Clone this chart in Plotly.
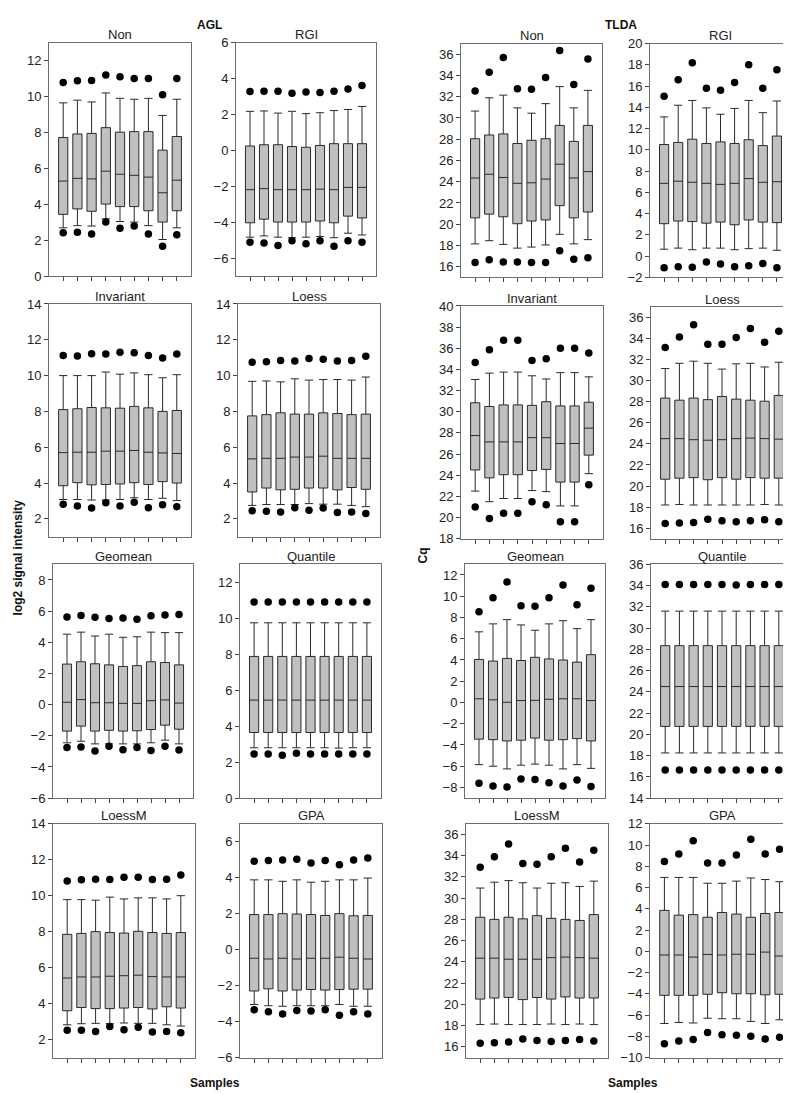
import plotly.graph_objects as go

SAMPLES = [1, 2, 3, 4, 5, 6, 7, 8, 9]

# ---------------- AGL ----------------
AGL_NON_UW = [9.65, 9.8, 9.7, 10.2, 9.9, 9.85, 9.9, 8.95, 9.85]
AGL_NON_Q3 = [7.72, 7.92, 7.95, 8.27, 8.02, 8.05, 8.05, 7.02, 7.78]
AGL_NON_MED = [5.30, 5.45, 5.42, 5.85, 5.68, 5.62, 5.52, 4.65, 5.35]
AGL_NON_Q1 = [3.45, 3.75, 3.62, 4.02, 3.88, 3.88, 3.65, 3.02, 3.65]
AGL_NON_LW = [2.70, 2.82, 2.80, 3.20, 3.05, 3.02, 2.82, 2.05, 2.70]
AGL_NON_HI = [10.78, 10.88, 10.9, 11.2, 11.1, 11.0, 11.0, 10.1, 11.0]
AGL_NON_LO = [2.42, 2.45, 2.35, 3.02, 2.68, 2.80, 2.35, 1.68, 2.32]

AGL_RGI_UW = [2.18, 2.2, 2.08, 2.18, 2.05, 2.1, 2.22, 2.28, 2.45]
AGL_RGI_Q3 = [0.25, 0.32, 0.32, 0.22, 0.18, 0.28, 0.38, 0.38, 0.38]
AGL_RGI_MED = [-2.18, -2.12, -2.18, -2.18, -2.18, -2.15, -2.18, -2.05, -2.05]
AGL_RGI_Q1 = [-4.02, -3.82, -3.98, -3.98, -3.98, -3.92, -4.02, -3.65, -3.75]
AGL_RGI_LW = [-4.82, -4.75, -4.82, -4.85, -4.82, -4.78, -4.85, -4.6, -4.7]
AGL_RGI_HI = [3.28, 3.3, 3.3, 3.18, 3.25, 3.22, 3.3, 3.42, 3.62]
AGL_RGI_LO = [-5.1, -5.15, -5.28, -5.02, -5.18, -5.02, -5.32, -5.02, -5.1]

AGL_INV_UW = [10.0, 10.0, 10.0, 10.2, 10.08, 10.15, 10.05, 9.88, 10.05]
AGL_INV_Q3 = [8.1, 8.15, 8.22, 8.2, 8.18, 8.28, 8.2, 8.0, 8.05]
AGL_INV_MED = [5.7, 5.72, 5.72, 5.78, 5.78, 5.82, 5.72, 5.68, 5.65]
AGL_INV_Q1 = [3.85, 4.02, 3.9, 3.92, 3.95, 4.02, 3.92, 4.08, 4.0]
AGL_INV_LW = [3.08, 3.08, 3.05, 3.05, 3.08, 3.18, 3.08, 3.15, 3.02]
AGL_INV_HI = [11.12, 11.1, 11.22, 11.2, 11.3, 11.28, 11.12, 10.98, 11.2]
AGL_INV_LO = [2.82, 2.72, 2.6, 2.9, 2.72, 2.92, 2.62, 2.78, 2.68]

AGL_LOE_UW = [9.68, 9.7, 9.65, 9.82, 9.75, 9.78, 9.78, 9.75, 9.92]
AGL_LOE_Q3 = [7.75, 7.82, 7.92, 7.85, 7.85, 7.92, 7.88, 7.82, 7.85]
AGL_LOE_MED = [5.35, 5.38, 5.38, 5.45, 5.45, 5.5, 5.38, 5.38, 5.38]
AGL_LOE_Q1 = [3.5, 3.72, 3.62, 3.65, 3.72, 3.72, 3.62, 3.75, 3.65]
AGL_LOE_LW = [2.75, 2.8, 2.8, 2.8, 2.85, 2.82, 2.82, 2.75, 2.68]
AGL_LOE_HI = [10.75, 10.78, 10.85, 10.82, 10.95, 10.92, 10.82, 10.85, 11.08]
AGL_LOE_LO = [2.45, 2.42, 2.38, 2.62, 2.48, 2.6, 2.35, 2.38, 2.3]

AGL_GEO_UW = [4.52, 4.65, 4.4, 4.52, 4.32, 4.35, 4.65, 4.62, 4.62]
AGL_GEO_Q3 = [2.6, 2.75, 2.62, 2.55, 2.45, 2.5, 2.75, 2.7, 2.55]
AGL_GEO_MED = [0.15, 0.32, 0.12, 0.12, 0.08, 0.08, 0.25, 0.3, 0.1]
AGL_GEO_Q1 = [-1.7, -1.38, -1.7, -1.65, -1.7, -1.68, -1.6, -1.32, -1.58]
AGL_GEO_LW = [-2.45, -2.35, -2.52, -2.52, -2.52, -2.52, -2.45, -2.28, -2.52]
AGL_GEO_HI = [5.62, 5.72, 5.6, 5.52, 5.55, 5.48, 5.7, 5.75, 5.78]
AGL_GEO_LO = [-2.75, -2.72, -2.98, -2.68, -2.9, -2.75, -2.95, -2.68, -2.92]

AGL_QUA_UW = [9.75, 9.75, 9.75, 9.75, 9.75, 9.75, 9.75, 9.75, 9.75]
AGL_QUA_Q3 = [7.88, 7.88, 7.88, 7.88, 7.88, 7.88, 7.88, 7.88, 7.88]
AGL_QUA_MED = [5.45, 5.45, 5.45, 5.45, 5.45, 5.45, 5.45, 5.45, 5.45]
AGL_QUA_Q1 = [3.65, 3.65, 3.65, 3.65, 3.65, 3.65, 3.65, 3.65, 3.65]
AGL_QUA_LW = [2.8, 2.8, 2.8, 2.8, 2.8, 2.8, 2.78, 2.8, 2.8]
AGL_QUA_HI = [10.9, 10.9, 10.9, 10.9, 10.9, 10.9, 10.9, 10.9, 10.9]
AGL_QUA_LO = [2.45, 2.45, 2.38, 2.5, 2.45, 2.45, 2.45, 2.45, 2.45]

AGL_LOM_UW = [9.78, 9.78, 9.75, 9.92, 9.82, 9.88, 9.88, 9.82, 10.0]
AGL_LOM_Q3 = [7.85, 7.9, 8.0, 7.95, 7.92, 8.02, 7.95, 7.9, 7.95]
AGL_LOM_MED = [5.42, 5.48, 5.48, 5.52, 5.55, 5.58, 5.5, 5.48, 5.48]
AGL_LOM_Q1 = [3.6, 3.78, 3.72, 3.72, 3.75, 3.78, 3.7, 3.82, 3.75]
AGL_LOM_LW = [2.82, 2.88, 2.9, 2.88, 2.92, 2.9, 2.9, 2.82, 2.75]
AGL_LOM_HI = [10.82, 10.88, 10.92, 10.9, 11.02, 11.02, 10.9, 10.92, 11.15]
AGL_LOM_LO = [2.52, 2.52, 2.45, 2.72, 2.55, 2.68, 2.42, 2.45, 2.38]

AGL_GPA_UW = [3.88, 3.88, 3.8, 3.88, 3.75, 3.8, 3.88, 3.88, 3.98]
AGL_GPA_Q3 = [1.95, 1.95, 2.0, 1.98, 1.95, 1.9, 2.0, 1.88, 1.9]
AGL_GPA_MED = [-0.48, -0.52, -0.48, -0.52, -0.48, -0.48, -0.42, -0.48, -0.52]
AGL_GPA_Q1 = [-2.3, -2.18, -2.3, -2.25, -2.22, -2.25, -2.22, -2.2, -2.2]
AGL_GPA_LW = [-3.05, -3.12, -3.15, -3.12, -3.12, -3.12, -3.05, -3.15, -3.15]
AGL_GPA_HI = [4.92, 4.95, 4.98, 5.02, 4.82, 4.95, 4.72, 4.98, 5.1]
AGL_GPA_LO = [-3.35, -3.45, -3.58, -3.38, -3.42, -3.35, -3.65, -3.45, -3.58]

# ---------------- TLDA ----------------
TLDA_NON_UW = [30.65, 31.9, 32.15, 30.95, 30.45, 31.35, 32.95, 30.95, 32.6]
TLDA_NON_Q3 = [28.05, 28.4, 28.5, 27.6, 27.9, 28.05, 29.3, 27.8, 29.3]
TLDA_NON_MED = [24.35, 24.7, 24.4, 23.85, 23.9, 24.25, 25.65, 24.35, 24.95]
TLDA_NON_Q1 = [20.6, 20.95, 20.7, 20.05, 20.3, 20.4, 21.75, 20.6, 21.15]
TLDA_NON_LW = [18.15, 18.45, 18.1, 17.75, 17.85, 18.05, 19.05, 18.15, 18.55]
TLDA_NON_HI = [32.55, 34.3, 35.7, 32.75, 32.7, 33.8, 36.35, 33.15, 35.55]
TLDA_NON_LO = [16.4, 16.65, 16.45, 16.45, 16.4, 16.4, 17.5, 16.7, 16.85]

TLDA_RGI_UW = [13.1, 14.2, 14.65, 13.95, 13.35, 13.9, 14.65, 13.5, 14.6]
TLDA_RGI_Q3 = [10.5, 10.7, 11.0, 10.6, 10.75, 10.6, 10.95, 10.4, 11.3]
TLDA_RGI_MED = [6.85, 7.05, 6.95, 6.85, 6.75, 6.85, 7.3, 6.95, 7.0]
TLDA_RGI_Q1 = [3.05, 3.3, 3.25, 3.1, 3.2, 2.95, 3.4, 3.2, 3.15]
TLDA_RGI_LW = [0.65, 0.75, 0.6, 0.75, 0.75, 0.6, 0.7, 0.75, 0.55]
TLDA_RGI_HI = [15.05, 16.6, 18.2, 15.8, 15.6, 16.35, 18.0, 15.8, 17.55]
TLDA_RGI_LO = [-1.1, -1.0, -1.05, -0.55, -0.75, -1.0, -0.9, -0.7, -1.1]

TLDA_INV_UW = [33.05, 33.65, 33.75, 33.75, 33.4, 33.1, 33.7, 33.7, 33.3]
TLDA_INV_Q3 = [30.85, 30.5, 30.65, 30.65, 30.6, 30.95, 30.55, 30.55, 30.9]
TLDA_INV_MED = [27.75, 27.15, 27.15, 27.15, 27.55, 27.55, 27.0, 27.0, 28.45]
TLDA_INV_Q1 = [24.5, 23.75, 24.05, 24.05, 24.45, 24.55, 23.35, 23.35, 25.9]
TLDA_INV_LW = [22.5, 21.5, 21.8, 21.8, 22.55, 22.45, 21.1, 21.1, 24.15]
TLDA_INV_HI = [34.65, 35.85, 36.75, 36.75, 34.85, 35.0, 36.0, 36.0, 35.55]
TLDA_INV_LO = [21.0, 19.9, 20.4, 20.4, 21.5, 21.2, 19.6, 19.6, 23.1]

TLDA_LOE_UW = [31.15, 31.65, 31.85, 31.65, 31.1, 31.6, 31.65, 31.3, 31.75]
TLDA_LOE_Q3 = [28.35, 28.15, 28.35, 28.2, 28.5, 28.25, 28.15, 28.05, 28.6]
TLDA_LOE_MED = [24.5, 24.5, 24.4, 24.35, 24.4, 24.5, 24.55, 24.5, 24.45]
TLDA_LOE_Q1 = [20.65, 20.75, 20.8, 20.6, 20.8, 20.65, 20.8, 20.75, 20.75]
TLDA_LOE_LW = [18.2, 18.25, 18.2, 18.2, 18.2, 18.2, 18.2, 18.25, 18.2]
TLDA_LOE_HI = [33.15, 34.15, 35.3, 33.45, 33.45, 34.1, 34.95, 33.65, 34.7]
TLDA_LOE_LO = [16.45, 16.5, 16.55, 16.85, 16.7, 16.6, 16.7, 16.8, 16.6]

TLDA_GEO_UW = [6.65, 7.4, 7.8, 7.3, 6.8, 7.4, 7.7, 6.95, 7.8]
TLDA_GEO_Q3 = [4.05, 3.9, 4.15, 3.95, 4.25, 4.1, 4.0, 3.8, 4.5]
TLDA_GEO_MED = [0.35, 0.25, 0.02, 0.18, 0.2, 0.3, 0.35, 0.35, 0.18]
TLDA_GEO_Q1 = [-3.45, -3.5, -3.62, -3.55, -3.35, -3.55, -3.5, -3.4, -3.62]
TLDA_GEO_LW = [-5.85, -6.0, -6.25, -5.9, -5.8, -5.9, -6.25, -5.85, -6.2]
TLDA_GEO_HI = [8.55, 9.85, 11.35, 9.1, 9.05, 9.85, 11.05, 9.2, 10.75]
TLDA_GEO_LO = [-7.6, -7.85, -7.95, -7.2, -7.25, -7.55, -7.85, -7.3, -7.9]

TLDA_QUA_UW = [31.6, 31.6, 31.6, 31.6, 31.6, 31.6, 31.6, 31.6, 31.6]
TLDA_QUA_Q3 = [28.35, 28.35, 28.35, 28.35, 28.35, 28.35, 28.35, 28.35, 28.35]
TLDA_QUA_MED = [24.5, 24.5, 24.5, 24.5, 24.5, 24.5, 24.5, 24.5, 24.5]
TLDA_QUA_Q1 = [20.75, 20.75, 20.75, 20.75, 20.75, 20.75, 20.75, 20.75, 20.75]
TLDA_QUA_LW = [18.25, 18.25, 18.25, 18.25, 18.25, 18.25, 18.25, 18.25, 18.25]
TLDA_QUA_HI = [34.1, 34.1, 34.1, 34.1, 34.1, 34.05, 34.1, 34.1, 34.1]
TLDA_QUA_LO = [16.65, 16.65, 16.65, 16.65, 16.65, 16.65, 16.65, 16.65, 16.65]

TLDA_LOM_UW = [30.95, 31.5, 31.65, 31.45, 30.95, 31.4, 31.45, 31.1, 31.6]
TLDA_LOM_Q3 = [28.2, 28.0, 28.2, 28.05, 28.35, 28.1, 28.0, 27.9, 28.45]
TLDA_LOM_MED = [24.35, 24.35, 24.25, 24.25, 24.25, 24.4, 24.45, 24.4, 24.35]
TLDA_LOM_Q1 = [20.5, 20.6, 20.65, 20.45, 20.65, 20.5, 20.7, 20.6, 20.6]
TLDA_LOM_LW = [18.1, 18.15, 18.1, 18.1, 18.1, 18.15, 18.1, 18.15, 18.1]
TLDA_LOM_HI = [32.9, 33.9, 35.1, 33.25, 33.2, 33.9, 34.7, 33.4, 34.5]
TLDA_LOM_LO = [16.35, 16.4, 16.45, 16.75, 16.6, 16.5, 16.6, 16.7, 16.55]

TLDA_GPA_UW = [6.95, 6.95, 6.95, 6.4, 6.4, 6.6, 6.9, 6.75, 6.55]
TLDA_GPA_Q3 = [3.85, 3.4, 3.45, 3.2, 3.65, 3.5, 3.2, 3.55, 3.65]
TLDA_GPA_MED = [-0.35, -0.35, -0.55, -0.3, -0.35, -0.28, -0.28, -0.08, -0.45]
TLDA_GPA_Q1 = [-4.15, -4.15, -4.15, -4.05, -3.9, -4.0, -4.0, -4.1, -4.05]
TLDA_GPA_LW = [-6.8, -6.7, -6.75, -6.3, -6.35, -6.35, -6.6, -6.8, -6.45]
TLDA_GPA_HI = [8.45, 9.15, 10.4, 8.3, 8.3, 9.05, 10.55, 9.15, 9.6]
TLDA_GPA_LO = [-8.7, -8.45, -8.3, -7.65, -7.85, -7.9, -8.0, -8.25, -8.1]

W, H = 791, 1094
FONT = "Arial, Liberation Sans, sans-serif"

# (title, stats, frame px (x0, x1, ytop, ybottom), y range)
panels = [
    ("Non", (AGL_NON_UW, AGL_NON_Q3, AGL_NON_MED, AGL_NON_Q1, AGL_NON_LW, AGL_NON_HI, AGL_NON_LO), (41, 183, 28, 265), (0, 13)),
    ("RGI", (AGL_RGI_UW, AGL_RGI_Q3, AGL_RGI_MED, AGL_RGI_Q1, AGL_RGI_LW, AGL_RGI_HI, AGL_RGI_LO), (228, 368, 28, 265), (-7, 6)),
    ("Invariant", (AGL_INV_UW, AGL_INV_Q3, AGL_INV_MED, AGL_INV_Q1, AGL_INV_LW, AGL_INV_HI, AGL_INV_LO), (41, 183, 293, 529), (1, 14)),
    ("Loess", (AGL_LOE_UW, AGL_LOE_Q3, AGL_LOE_MED, AGL_LOE_Q1, AGL_LOE_LW, AGL_LOE_HI, AGL_LOE_LO), (230, 372, 293, 529), (1, 14)),
    ("Geomean", (AGL_GEO_UW, AGL_GEO_Q3, AGL_GEO_MED, AGL_GEO_Q1, AGL_GEO_LW, AGL_GEO_HI, AGL_GEO_LO), (45, 185, 557, 794), (-6, 9)),
    ("Quantile", (AGL_QUA_UW, AGL_QUA_Q3, AGL_QUA_MED, AGL_QUA_Q1, AGL_QUA_LW, AGL_QUA_HI, AGL_QUA_LO), (232, 373, 557, 794), (0, 13)),
    ("LoessM", (AGL_LOM_UW, AGL_LOM_Q3, AGL_LOM_MED, AGL_LOM_Q1, AGL_LOM_LW, AGL_LOM_HI, AGL_LOM_LO), (45, 187, 820, 1057), (1, 14)),
    ("GPA", (AGL_GPA_UW, AGL_GPA_Q3, AGL_GPA_MED, AGL_GPA_Q1, AGL_GPA_LW, AGL_GPA_HI, AGL_GPA_LO), (232, 374, 820, 1057), (-6, 7)),
    ("Non", (TLDA_NON_UW, TLDA_NON_Q3, TLDA_NON_MED, TLDA_NON_Q1, TLDA_NON_LW, TLDA_NON_HI, TLDA_NON_LO), (453, 594, 29, 266), (15, 37)),
    ("RGI", (TLDA_RGI_UW, TLDA_RGI_Q3, TLDA_RGI_MED, TLDA_RGI_Q1, TLDA_RGI_LW, TLDA_RGI_HI, TLDA_RGI_LO), (642, 783, 29, 266), (-2, 20)),
    ("Invariant", (TLDA_INV_UW, TLDA_INV_Q3, TLDA_INV_MED, TLDA_INV_Q1, TLDA_INV_LW, TLDA_INV_HI, TLDA_INV_LO), (453, 595, 295, 531), (18, 40)),
    ("Loess", (TLDA_LOE_UW, TLDA_LOE_Q3, TLDA_LOE_MED, TLDA_LOE_Q1, TLDA_LOE_LW, TLDA_LOE_HI, TLDA_LOE_LO), (643, 785, 296, 531), (15, 37)),
    ("Geomean", (TLDA_GEO_UW, TLDA_GEO_Q3, TLDA_GEO_MED, TLDA_GEO_Q1, TLDA_GEO_LW, TLDA_GEO_HI, TLDA_GEO_LO), (457, 597, 557, 794), (-9, 13)),
    ("Quantile", (TLDA_QUA_UW, TLDA_QUA_Q3, TLDA_QUA_MED, TLDA_QUA_Q1, TLDA_QUA_LW, TLDA_QUA_HI, TLDA_QUA_LO), (643, 785, 557, 794), (14, 36)),
    ("LoessM", (TLDA_LOM_UW, TLDA_LOM_Q3, TLDA_LOM_MED, TLDA_LOM_Q1, TLDA_LOM_LW, TLDA_LOM_HI, TLDA_LOM_LO), (458, 600, 820, 1057), (15, 37)),
    ("GPA", (TLDA_GPA_UW, TLDA_GPA_Q3, TLDA_GPA_MED, TLDA_GPA_Q1, TLDA_GPA_LW, TLDA_GPA_HI, TLDA_GPA_LO), (642, 786, 820, 1057), (-10, 12)),
]

fig = go.Figure()
annotations = []
layout_axes = {}

for i, (title, stats, frame, yr) in enumerate(panels, start=1):
    uw, q3, med, q1, lw, hi, lo = stats
    x0, x1, yt, yb = frame
    xa = "x" if i == 1 else f"x{i}"
    ya = "y" if i == 1 else f"y{i}"
    fig.add_trace(go.Box(
        x=SAMPLES, q1=q1, median=med, q3=q3, lowerfence=lw, upperfence=uw,
        width=0.65, whiskerwidth=0.9, fillcolor="#c0c0c0",
        line=dict(color="#2a2a2a", width=1), boxpoints=False,
        xaxis=xa, yaxis=ya, showlegend=False, hoverinfo="skip",
    ))
    fig.add_trace(go.Scatter(
        x=SAMPLES + SAMPLES, y=hi + lo, mode="markers",
        marker=dict(color="black", size=7.5),
        xaxis=xa, yaxis=ya, showlegend=False, hoverinfo="skip",
    ))
    xkey = "xaxis" if i == 1 else f"xaxis{i}"
    ykey = "yaxis" if i == 1 else f"yaxis{i}"
    layout_axes[xkey] = dict(
        domain=[x0 / W, x1 / W], anchor=ya, range=[0, 10],
        tickvals=SAMPLES, showticklabels=False, ticks="outside", ticklen=4,
        tickcolor="#444", showline=True, mirror=True, linecolor="#6e6e6e",
        linewidth=1, showgrid=False, zeroline=False, fixedrange=True,
    )
    layout_axes[ykey] = dict(
        domain=[1 - yb / H, 1 - yt / H], anchor=xa, range=list(yr), dtick=2,
        ticks="outside", ticklen=4, tickcolor="#444",
        tickfont=dict(family=FONT, size=13, color="#222"),
        showline=True, mirror=True, linecolor="#6e6e6e", linewidth=1,
        showgrid=False, zeroline=False, fixedrange=True,
    )
    annotations.append(dict(
        text=title, x=(x0 + x1) / 2 / W, y=1 - (yt - 8) / H, xref="paper", yref="paper",
        xanchor="center", yanchor="middle", showarrow=False,
        font=dict(family=FONT, size=13, color="#222"),
    ))

def bold_note(text, xp, yp, angle=0):
    return dict(text=f"<b>{text}</b>", x=xp / W, y=1 - yp / H, xref="paper", yref="paper",
                xanchor="center", yanchor="middle", showarrow=False, textangle=angle,
                font=dict(family=FONT, size=12, color="#111"))

annotations += [
    bold_note("AGL", 201, 10),
    bold_note("TLDA", 613, 10),
    bold_note("log2 signal intensity", 10, 550, -90),
    bold_note("Cq", 415, 548, -90),
    bold_note("Samples", 207, 1083),
    bold_note("Samples", 625, 1083),
]

fig.update_layout(
    width=W, height=H, margin=dict(l=0, r=0, t=0, b=0),
    paper_bgcolor="white", plot_bgcolor="white",
    annotations=annotations, showlegend=False, **layout_axes,
)

fig.write_html("out.html")
